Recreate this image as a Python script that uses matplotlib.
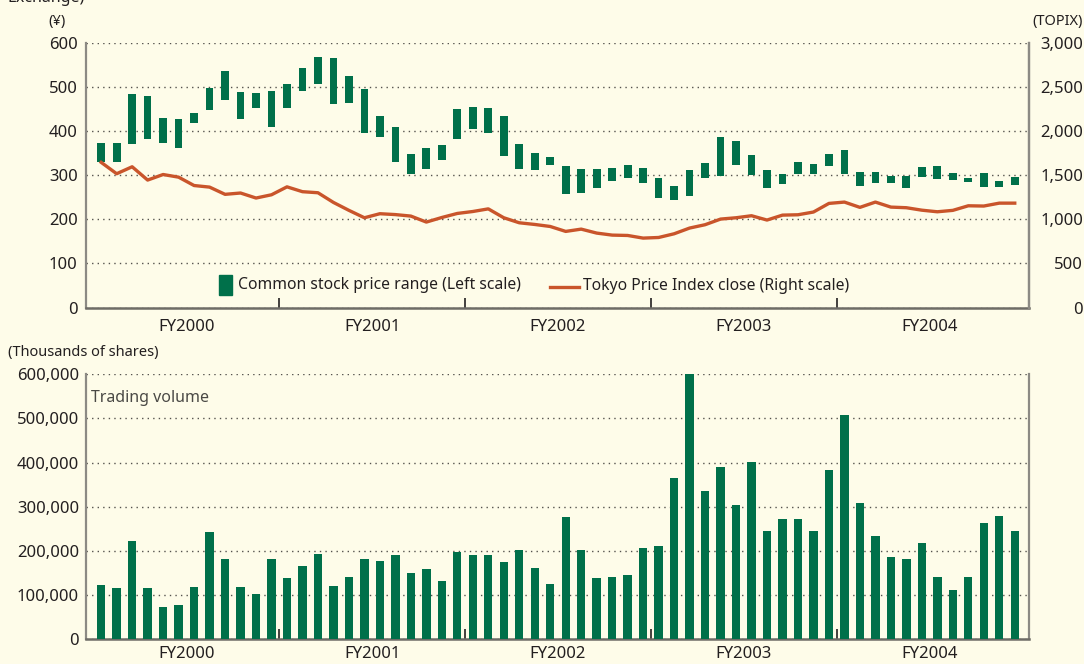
import matplotlib
matplotlib.use("Agg")
import matplotlib.pyplot as plt
import numpy as np
from matplotlib.patches import Rectangle
from matplotlib.lines import Line2D
from matplotlib.ticker import FuncFormatter

plt.rcParams['font.family'] = ['Noto Sans', 'DejaVu Sans']

# ---------------- data ----------------
fiscal_years = ["FY2000", "FY2001", "FY2002", "FY2003", "FY2004"]

price_high = [373, 373, 484, 480, 430, 428, 441, 499, 536, 489,
              486, 492, 507, 543, 568, 566, 526, 496, 435, 411,
              349, 362, 369, 451, 455, 453, 435, 371, 351, 342,
              321, 314, 314, 316, 323, 316, 294, 276, 312, 328,
              387, 378, 346, 312, 303, 330, 326, 349, 358, 308,
              308, 299, 299, 319, 321, 305, 294, 305, 287, 296]
price_low = [331, 331, 372, 383, 374, 363, 420, 449, 472, 429,
             454, 410, 452, 492, 508, 463, 465, 397, 388, 331,
             304, 315, 336, 383, 405, 396, 344, 315, 312, 324,
             258, 260, 271, 287, 293, 282, 249, 244, 253, 293,
             298, 324, 300, 271, 280, 303, 303, 321, 304, 277,
             283, 283, 272, 297, 292, 290, 286, 274, 274, 279]
topix_close = [1648, 1519, 1598, 1447, 1510, 1480, 1385, 1367, 1285, 1300,
               1243, 1280, 1370, 1315, 1303, 1193, 1103, 1019, 1065, 1055,
               1038, 970, 1022, 1068, 1090, 1120, 1019, 962, 943, 920,
               864, 890, 845, 822, 818, 788, 795, 837, 902, 940,
               1004, 1019, 1042, 993, 1049, 1053, 1084, 1182, 1197, 1137,
               1197, 1140, 1133, 1105, 1087, 1103, 1155, 1152, 1185, 1185]
volume = [123000, 116000, 223000, 116000, 73000, 78000, 118000, 243000, 182000, 118000,
          103000, 182000, 139000, 166000, 193000, 121000, 141000, 182000, 177000, 191000,
          150000, 159000, 132000, 198000, 191000, 191000, 175000, 202000, 161000, 125000,
          277000, 202000, 139000, 141000, 146000, 207000, 211000, 365000, 600000, 336000,
          390000, 304000, 401000, 245000, 272000, 272000, 245000, 383000, 508000, 309000,
          234000, 186000, 182000, 218000, 141000, 112000, 141000, 263000, 279000, 245000]

price_ticks = [0, 100, 200, 300, 400, 500, 600]
topix_ticks = [0, 500, 1000, 1500, 2000, 2500, 3000]
volume_ticks = [0, 100000, 200000, 300000, 400000, 500000, 600000]

# ---------------- style ----------------
BG = '#FEFCE9'
GREEN = '#00704A'
ORANGE = '#C9552B'
TXT = '#231F20'
SPINE_L = '#8C8A84'
SPINE_B = '#6E6C66'
GRID = '#55534E'

W, H = 1084, 664
fig = plt.figure(figsize=(W / 100, H / 100), dpi=100, facecolor=BG)


def fx(px):
    return px / W


def fy(py):
    return 1 - py / H


x = np.arange(len(price_high))
n_per_fy = 12
boundaries = [k * n_per_fy - 0.5 for k in range(1, len(fiscal_years))]
centers = [k * n_per_fy + (n_per_fy - 1) / 2 for k in range(len(fiscal_years))]

L, R = 86, 1029
ax1 = fig.add_axes([fx(L), fy(307.5), fx(R - L), fy(43.3) - fy(307.5)])
ax2 = fig.add_axes([fx(L), fy(639.3), fx(R - L), fy(374.3) - fy(639.3)])

for ax, xpad in ((ax1, 8), (ax2, 5)):
    ax.set_facecolor(BG)
    ax.set_xlim(-0.98, 59.92)
    ax.spines['top'].set_visible(False)
    ax.spines['left'].set_color(SPINE_L)
    ax.spines['right'].set_color(SPINE_L)
    ax.spines['left'].set_linewidth(1.6)
    ax.spines['right'].set_linewidth(1.6)
    ax.spines['bottom'].set_color(SPINE_B)
    ax.spines['bottom'].set_linewidth(1.8)
    ax.set_xticks(boundaries)
    ax.set_xticklabels([])
    ax.tick_params(axis='x', which='major', direction='in', length=7, width=1.2, color=TXT)
    ax.set_xticks(centers, minor=True)
    ax.set_xticklabels(fiscal_years, minor=True)
    ax.tick_params(axis='x', which='minor', length=0, pad=xpad, labelsize=12, labelcolor=TXT)
    ax.tick_params(axis='y', length=0, labelsize=12, labelcolor=TXT)
    ax.grid(axis='y', linestyle=(0, (1, 3)), color=GRID, linewidth=1.0)
    ax.set_axisbelow(True)

# ---------------- top panel ----------------
low = np.array(price_low)
high = np.array(price_high)
ax1.bar(x, high - low, bottom=low, width=0.5, color=GREEN, zorder=3)
ax1.set_ylim(0, 600)
ax1.set_yticks(price_ticks)
ax1.tick_params(axis='y', pad=6)

ax1r = ax1.twinx()
ax1r.set_ylim(0, 3000)
ax1r.set_yticks(topix_ticks)
ax1r.yaxis.set_major_formatter(FuncFormatter(lambda v, p: f"{int(v):,}"))
ax1r.tick_params(axis='y', length=0, labelsize=12, labelcolor=TXT, pad=39)
for lab in ax1r.get_yticklabels():
    lab.set_horizontalalignment('right')
for s in ('top', 'left', 'bottom'):
    ax1r.spines[s].set_visible(False)
ax1r.spines['right'].set_color(SPINE_L)
ax1r.spines['right'].set_linewidth(1.6)
ax1r.plot(x, topix_close, color=ORANGE, linewidth=2.4, solid_joinstyle='round', zorder=4)

# legend (drawn manually)
ax1.add_patch(Rectangle((0.141, 0.047), 0.014, 0.076, transform=ax1.transAxes,
                        color=GREEN, clip_on=False))
ax1.text(0.161, 0.085, "Common stock price range (Left scale)", transform=ax1.transAxes,
         ha='left', va='center', fontsize=11.3, color=TXT)
ax1.add_line(Line2D([0.492, 0.523], [0.079, 0.079], transform=ax1.transAxes,
                    color=ORANGE, linewidth=2.4))
ax1.text(0.527, 0.082, "Tokyo Price Index close (Right scale)", transform=ax1.transAxes,
         ha='left', va='center', fontsize=11.3, color=TXT)

# ---------------- bottom panel ----------------
ax2.bar(x, volume, width=0.54, color=GREEN, zorder=3)
ax2.set_ylim(0, 600000)
ax2.set_yticks(volume_ticks)
ax2.yaxis.set_major_formatter(FuncFormatter(lambda v, p: f"{int(v):,}"))
ax2.tick_params(axis='y', pad=5)
ax2.text(0.005, 0.91, "Trading volume", transform=ax2.transAxes, ha='left', va='center',
         fontsize=11.5, color='#4A4945')

# ---------------- figure texts ----------------
fig.text(fx(85), fy(-2), "Exchange)", ha='right', va='center', fontsize=11.5, color=TXT)
fig.text(fx(57), fy(21), "(¥)", ha='center', va='center', fontsize=10.5, color=TXT)
fig.text(fx(1083), fy(22), "(TOPIX)", ha='right', va='center', fontsize=10.5, color=TXT)
fig.text(fx(8), fy(353), "(Thousands of shares)", ha='left', va='center', fontsize=10.5, color=TXT)

fig.savefig("out.png", dpi=100, facecolor=BG)
